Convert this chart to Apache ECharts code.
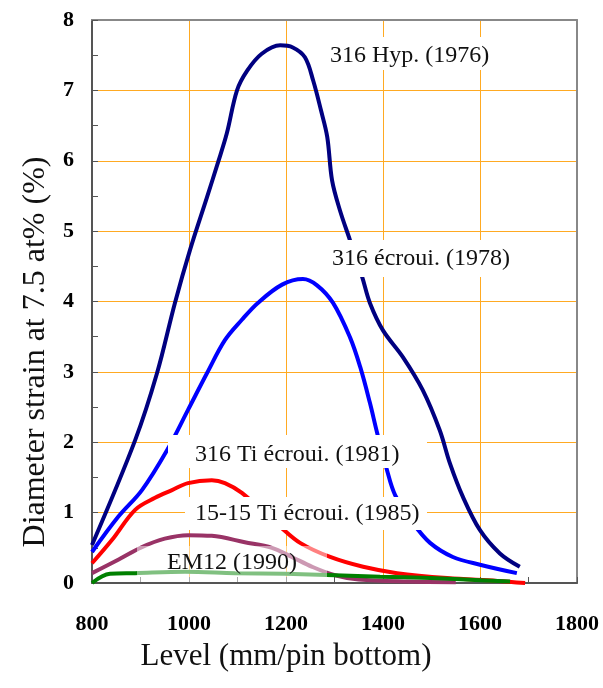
<!DOCTYPE html>
<html>
<head>
<meta charset="utf-8">
<script src="https://cdn.jsdelivr.net/npm/echarts@6/dist/echarts.min.js"></script>
<style>html,body{margin:0;padding:0;background:#fff}#c{width:603px;height:688px}</style>
</head>
<body>
<div id="c"></div>
<script>
const xTicks = [800, 1000, 1200, 1400, 1600, 1800];
const yTicks = [0, 1, 2, 3, 4, 5, 6, 7, 8];
const seriesNames = ['316 Hyp. (1976)', '316 écroui. (1978)', '316 Ti écroui. (1981)', '15-15 Ti écroui. (1985)', 'EM12 (1990)'];
const hyp316 = [[800,0.54],[889,2.03],[934,2.98],[971,3.98],[1002,4.73],[1037,5.48],[1060,5.98],[1078,6.39],[1099,7.0],[1120,7.28],[1150,7.52],[1188,7.64],[1214,7.61],[1239,7.47],[1256,7.14],[1272,6.72],[1285,6.34],[1295,5.72],[1311,5.30],[1332,4.87],[1357,4.35],[1373,3.98],[1400,3.59],[1441,3.21],[1482,2.74],[1517,2.17],[1538,1.70],[1565,1.22],[1600,0.75],[1641,0.42],[1682,0.23]];
const ecroui316 = [[800,0.44],[854,0.94],[903,1.32],[955,1.89],[998,2.46],[1037,2.98],[1074,3.45],[1109,3.74],[1142,3.98],[1192,4.24],[1235,4.32],[1264,4.23],[1297,3.98],[1332,3.49],[1353,3.07],[1373,2.56],[1388,2.13],[1408,1.61],[1425,1.25],[1462,0.85],[1497,0.57],[1544,0.37],[1600,0.26],[1676,0.14]];
const ti316 = [[800,0.28],[841,0.61],[889,1.04],[930,1.21],[965,1.32],[998,1.42],[1047,1.46],[1074,1.42],[1109,1.28],[1188,0.80],[1229,0.57],[1291,0.37],[1359,0.23],[1429,0.14],[1532,0.07],[1635,0.03],[1693,0.0]];
const ti1515 = [[800,0.14],[854,0.33],[903,0.51],[950,0.63],[998,0.68],[1047,0.67],[1115,0.58],[1171,0.50],[1212,0.37],[1254,0.23],[1301,0.11],[1350,0.05],[1450,0.02],[1550,0.01]];
const em12 = [[800,0.0],[837,0.13],[889,0.14],[992,0.16],[1095,0.14],[1198,0.13],[1301,0.11],[1394,0.09],[1497,0.07],[1600,0.04],[1662,0.02]];
const colors = ['#000080', '#0000FF', '#FF0000', '#993366', '#008000'];
const allData = [hyp316, ecroui316, ti316, ti1515, em12];

const W = 603, H = 688;
const gridL = 92, gridR = 26, gridT = 20, gridB = 105;
const plotW = W - gridL - gridR, plotH = H - gridT - gridB;

const chart = echarts.init(document.getElementById('c'), null, {renderer: 'canvas'});
const serif = '"Liberation Serif", "Times New Roman", serif';
const gridColor = '#FFAA22';
const axisGray = '#555';
const borderGray = '#888';
const xMin = xTicks[0], xMax = xTicks[xTicks.length - 1];
const yMin = yTicks[0], yMax = yTicks[yTicks.length - 1];

function labelBox(text, tx, ty, bx, by, bw, bh, fill) {
  return {
    type: 'group', z: 10,
    children: [
      {type: 'rect', z: 10, shape: {x: bx, y: by, width: bw, height: bh}, style: {fill: fill}},
      {type: 'text', z: 11, style: {text: text, x: tx, y: ty, font: '24px ' + serif, fill: '#111', align: 'left', verticalAlign: 'middle'}}
    ]
  };
}
const none = {show: false};

chart.setOption({
  animation: false,
  backgroundColor: '#fff',
  grid: {left: gridL, right: gridR, top: gridT, bottom: gridB, show: false},
  xAxis: [
    {
      type: 'value', min: xMin, max: xMax, interval: 200, position: 'bottom',
      axisLine: {show: true, onZero: false, lineStyle: {color: axisGray, width: 2}},
      axisTick: none,
      splitLine: {show: true, lineStyle: {color: gridColor, width: 1}},
      axisLabel: {fontFamily: serif, fontSize: 22, fontWeight: 'bold', color: '#000', margin: 30, formatter: v => String(v)}
    },
    {
      // tick marks pointing up from the bottom edge
      type: 'value', min: xMin, max: xMax, interval: 100, position: 'top', offset: -plotH,
      axisLine: {show: false, onZero: false}, splitLine: none, axisLabel: none,
      axisTick: {show: true, inside: false, length: 6, lineStyle: {color: axisGray, width: 1}}
    },
    {
      type: 'value', min: xMin, max: xMax, position: 'top',
      axisLine: {show: true, onZero: false, lineStyle: {color: borderGray, width: 2}},
      axisTick: none, splitLine: none, axisLabel: none
    }
  ],
  yAxis: [
    {
      type: 'value', min: yMin, max: yMax, interval: 1, position: 'left',
      axisLine: {show: true, onZero: false, lineStyle: {color: axisGray, width: 2}},
      axisTick: none,
      splitLine: {show: true, lineStyle: {color: gridColor, width: 1}},
      axisLabel: {fontFamily: serif, fontSize: 22, fontWeight: 'bold', color: '#000', margin: 18}
    },
    {
      // tick marks pointing right from the left edge
      type: 'value', min: yMin, max: yMax, interval: 0.5, position: 'right', offset: -plotW,
      axisLine: {show: false, onZero: false}, splitLine: none, axisLabel: none,
      axisTick: {show: true, inside: false, length: 6, lineStyle: {color: axisGray, width: 1}}
    },
    {
      type: 'value', min: yMin, max: yMax, position: 'right',
      axisLine: {show: true, onZero: false, lineStyle: {color: borderGray, width: 2}},
      axisTick: none, splitLine: none, axisLabel: none
    }
  ],
  series: allData.map((d, i) => ({
    name: seriesNames[i], type: 'line', data: d, smooth: 0.35, showSymbol: false,
    xAxisIndex: 0, yAxisIndex: 0,
    z: 2 + i * 0.1,
    lineStyle: {color: colors[i], width: 4}
  })),
  graphic: [
    labelBox(seriesNames[0], 330, 56, 325, 37, 167, 33, '#fff'),
    labelBox(seriesNames[1], 332, 259, 325, 240, 190, 37, '#fff'),
    labelBox(seriesNames[2], 195, 455, 168, 435, 259, 33, '#fff'),
    labelBox(seriesNames[3], 195, 514, 185, 497, 242, 33, '#fff'),
    labelBox(seriesNames[4], 167, 563, 137, 546, 190, 36, 'rgba(255,255,255,0.5)'),
    {type: 'text', z: 11, style: {text: 'Level (mm/pin bottom)', x: 286, y: 657, font: '31px ' + serif, fill: '#111', align: 'center', verticalAlign: 'middle'}},
    {type: 'text', z: 11, x: 36, y: 352, rotation: Math.PI / 2, style: {text: 'Diameter strain at 7.5 at% (%)', x: 0, y: 0, font: '32px ' + serif, fill: '#111', align: 'center', verticalAlign: 'middle'}}
  ]
});
</script>
</body>
</html>
